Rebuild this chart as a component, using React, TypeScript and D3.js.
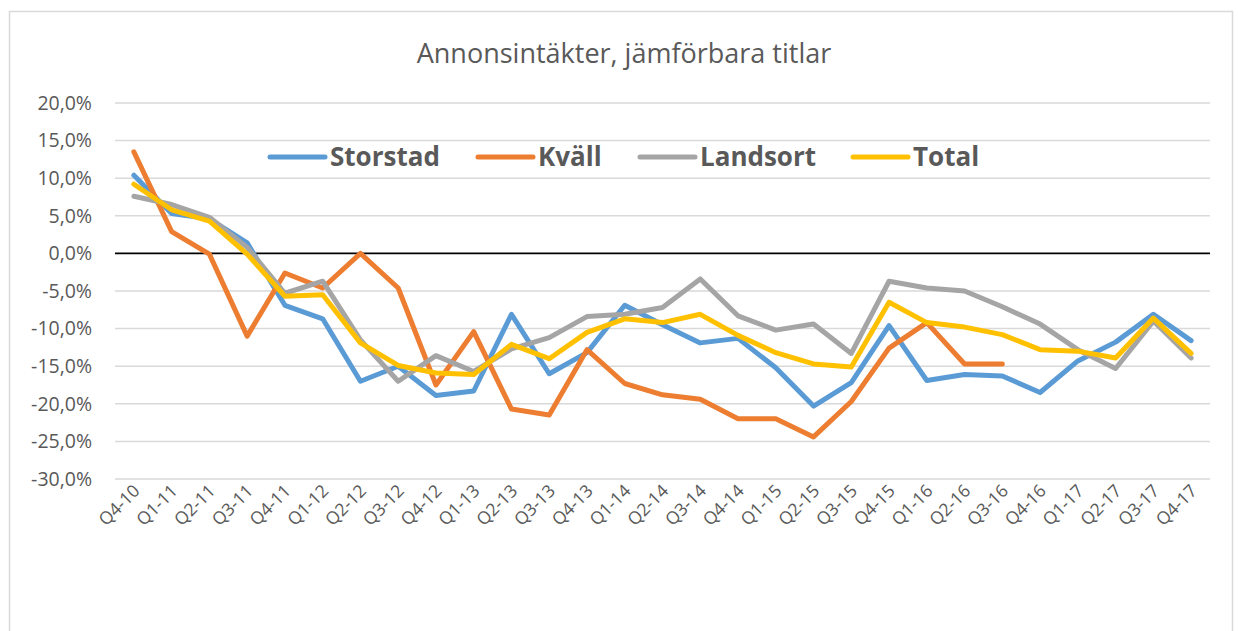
import React from "react";
import * as d3 from "d3";

const categories = ["Q4-10","Q1-11","Q2-11","Q3-11","Q4-11","Q1-12","Q2-12","Q3-12","Q4-12","Q1-13","Q2-13","Q3-13","Q4-13","Q1-14","Q2-14","Q3-14","Q4-14","Q1-15","Q2-15","Q3-15","Q4-15","Q1-16","Q2-16","Q3-16","Q4-16","Q1-17","Q2-17","Q3-17","Q4-17"];

const storstad = [10.4,5.3,4.6,1.4,-6.9,-8.7,-17.0,-15.0,-18.9,-18.3,-8.1,-16.0,-13.2,-6.9,-9.5,-11.9,-11.3,-15.2,-20.3,-17.2,-9.6,-16.9,-16.1,-16.3,-18.5,-14.3,-11.8,-8.1,-11.6];
const kvall: (number | null)[] = [13.5,2.9,-0.1,-11.0,-2.6,-4.6,0.0,-4.6,-17.5,-10.4,-20.7,-21.5,-12.8,-17.3,-18.8,-19.4,-22.0,-22.0,-24.4,-19.7,-12.6,-9.2,-14.7,-14.7,null,null,null,null,null];
const landsort = [7.6,6.5,4.8,0.8,-5.3,-3.7,-11.5,-17.0,-13.6,-15.7,-12.7,-11.2,-8.4,-8.1,-7.2,-3.4,-8.3,-10.2,-9.4,-13.3,-3.7,-4.6,-5.0,-7.1,-9.4,-12.8,-15.3,-9.0,-13.9];
const total = [9.2,5.8,4.3,-0.1,-5.7,-5.5,-11.9,-14.9,-15.9,-16.1,-12.1,-14.0,-10.5,-8.7,-9.2,-8.1,-10.9,-13.2,-14.7,-15.1,-6.5,-9.2,-9.8,-10.8,-12.8,-13.0,-13.9,-8.6,-13.3];

const yTicks = [20,15,10,5,0,-5,-10,-15,-20,-25,-30];

const seriesNames = ["Storstad","Kväll","Landsort","Total"];
const seriesColors = ["#5B9BD5","#ED7D31","#A5A5A5","#FFC000"];
const seriesData = [storstad, kvall, landsort, total];
const legendX = [270, 478, 640, 853];

const W = 1238, H = 631;
const FONT = "'Open Sans', 'Noto Sans', sans-serif";

export default function App() {
  const x = d3.scaleBand<string>().domain(categories).range([115, 1210]);
  const y = d3.scaleLinear().domain([-30, 20]).range([479, 103]);
  const cx = (c: string) => (x(c) as number) + x.bandwidth() / 2;
  const fmt = (v: number) => d3.format(".1f")(v).replace(".", ",").replace("−", "-") + "%";

  const line = d3.line<number | null>()
    .defined((d) => d !== null)
    .x((_, i) => cx(categories[i]))
    .y((d) => y(d as number));

  return (
    <svg width={W} height={H} style={{ position: "absolute", left: 0, top: 0, background: "#fff" }}>
      <rect x={9.5} y={11.5} width={1223} height={700} fill="#fff" stroke="#D9D9D9" strokeWidth={1.5} />
      <text x={624} y={63} textAnchor="middle" fontFamily={FONT} fontSize={27} fill="#595959">
        Annonsintäkter, jämförbara titlar
      </text>
      {yTicks.map((t) => (
        <g key={t}>
          {t !== 0 && (
            <line x1={115} x2={1210} y1={y(t)} y2={y(t)} stroke="#D9D9D9" strokeWidth={1.5} />
          )}
          <text x={92} y={y(t)} dy="0.35em" textAnchor="end" fontFamily={FONT} fontSize={19.5} fill="#595959">
            {fmt(t)}
          </text>
        </g>
      ))}
      <line x1={115} x2={1210} y1={y(0)} y2={y(0)} stroke="#000" strokeWidth={1.8} />
      {categories.map((c) => (
        <text key={c} transform={`translate(${cx(c) + 7},${492}) rotate(-45)`} textAnchor="end"
          fontFamily={FONT} fontSize={17.5} fill="#595959">
          {c}
        </text>
      ))}
      {seriesData.map((s, k) => (
        <path key={seriesNames[k]} d={line(s as (number | null)[]) || ""} fill="none"
          stroke={seriesColors[k]} strokeWidth={5} strokeLinejoin="round" strokeLinecap="round" />
      ))}
      {seriesNames.map((n, k) => (
        <g key={n}>
          <line x1={legendX[k]} x2={legendX[k] + 55} y1={157} y2={157} stroke={seriesColors[k]} strokeWidth={5} strokeLinecap="round" />
          <text x={legendX[k] + 60} y={157} dy="0.36em" fontFamily={FONT} fontWeight="bold" fontSize={26} fill="#595959">
            {n}
          </text>
        </g>
      ))}
    </svg>
  );
}
